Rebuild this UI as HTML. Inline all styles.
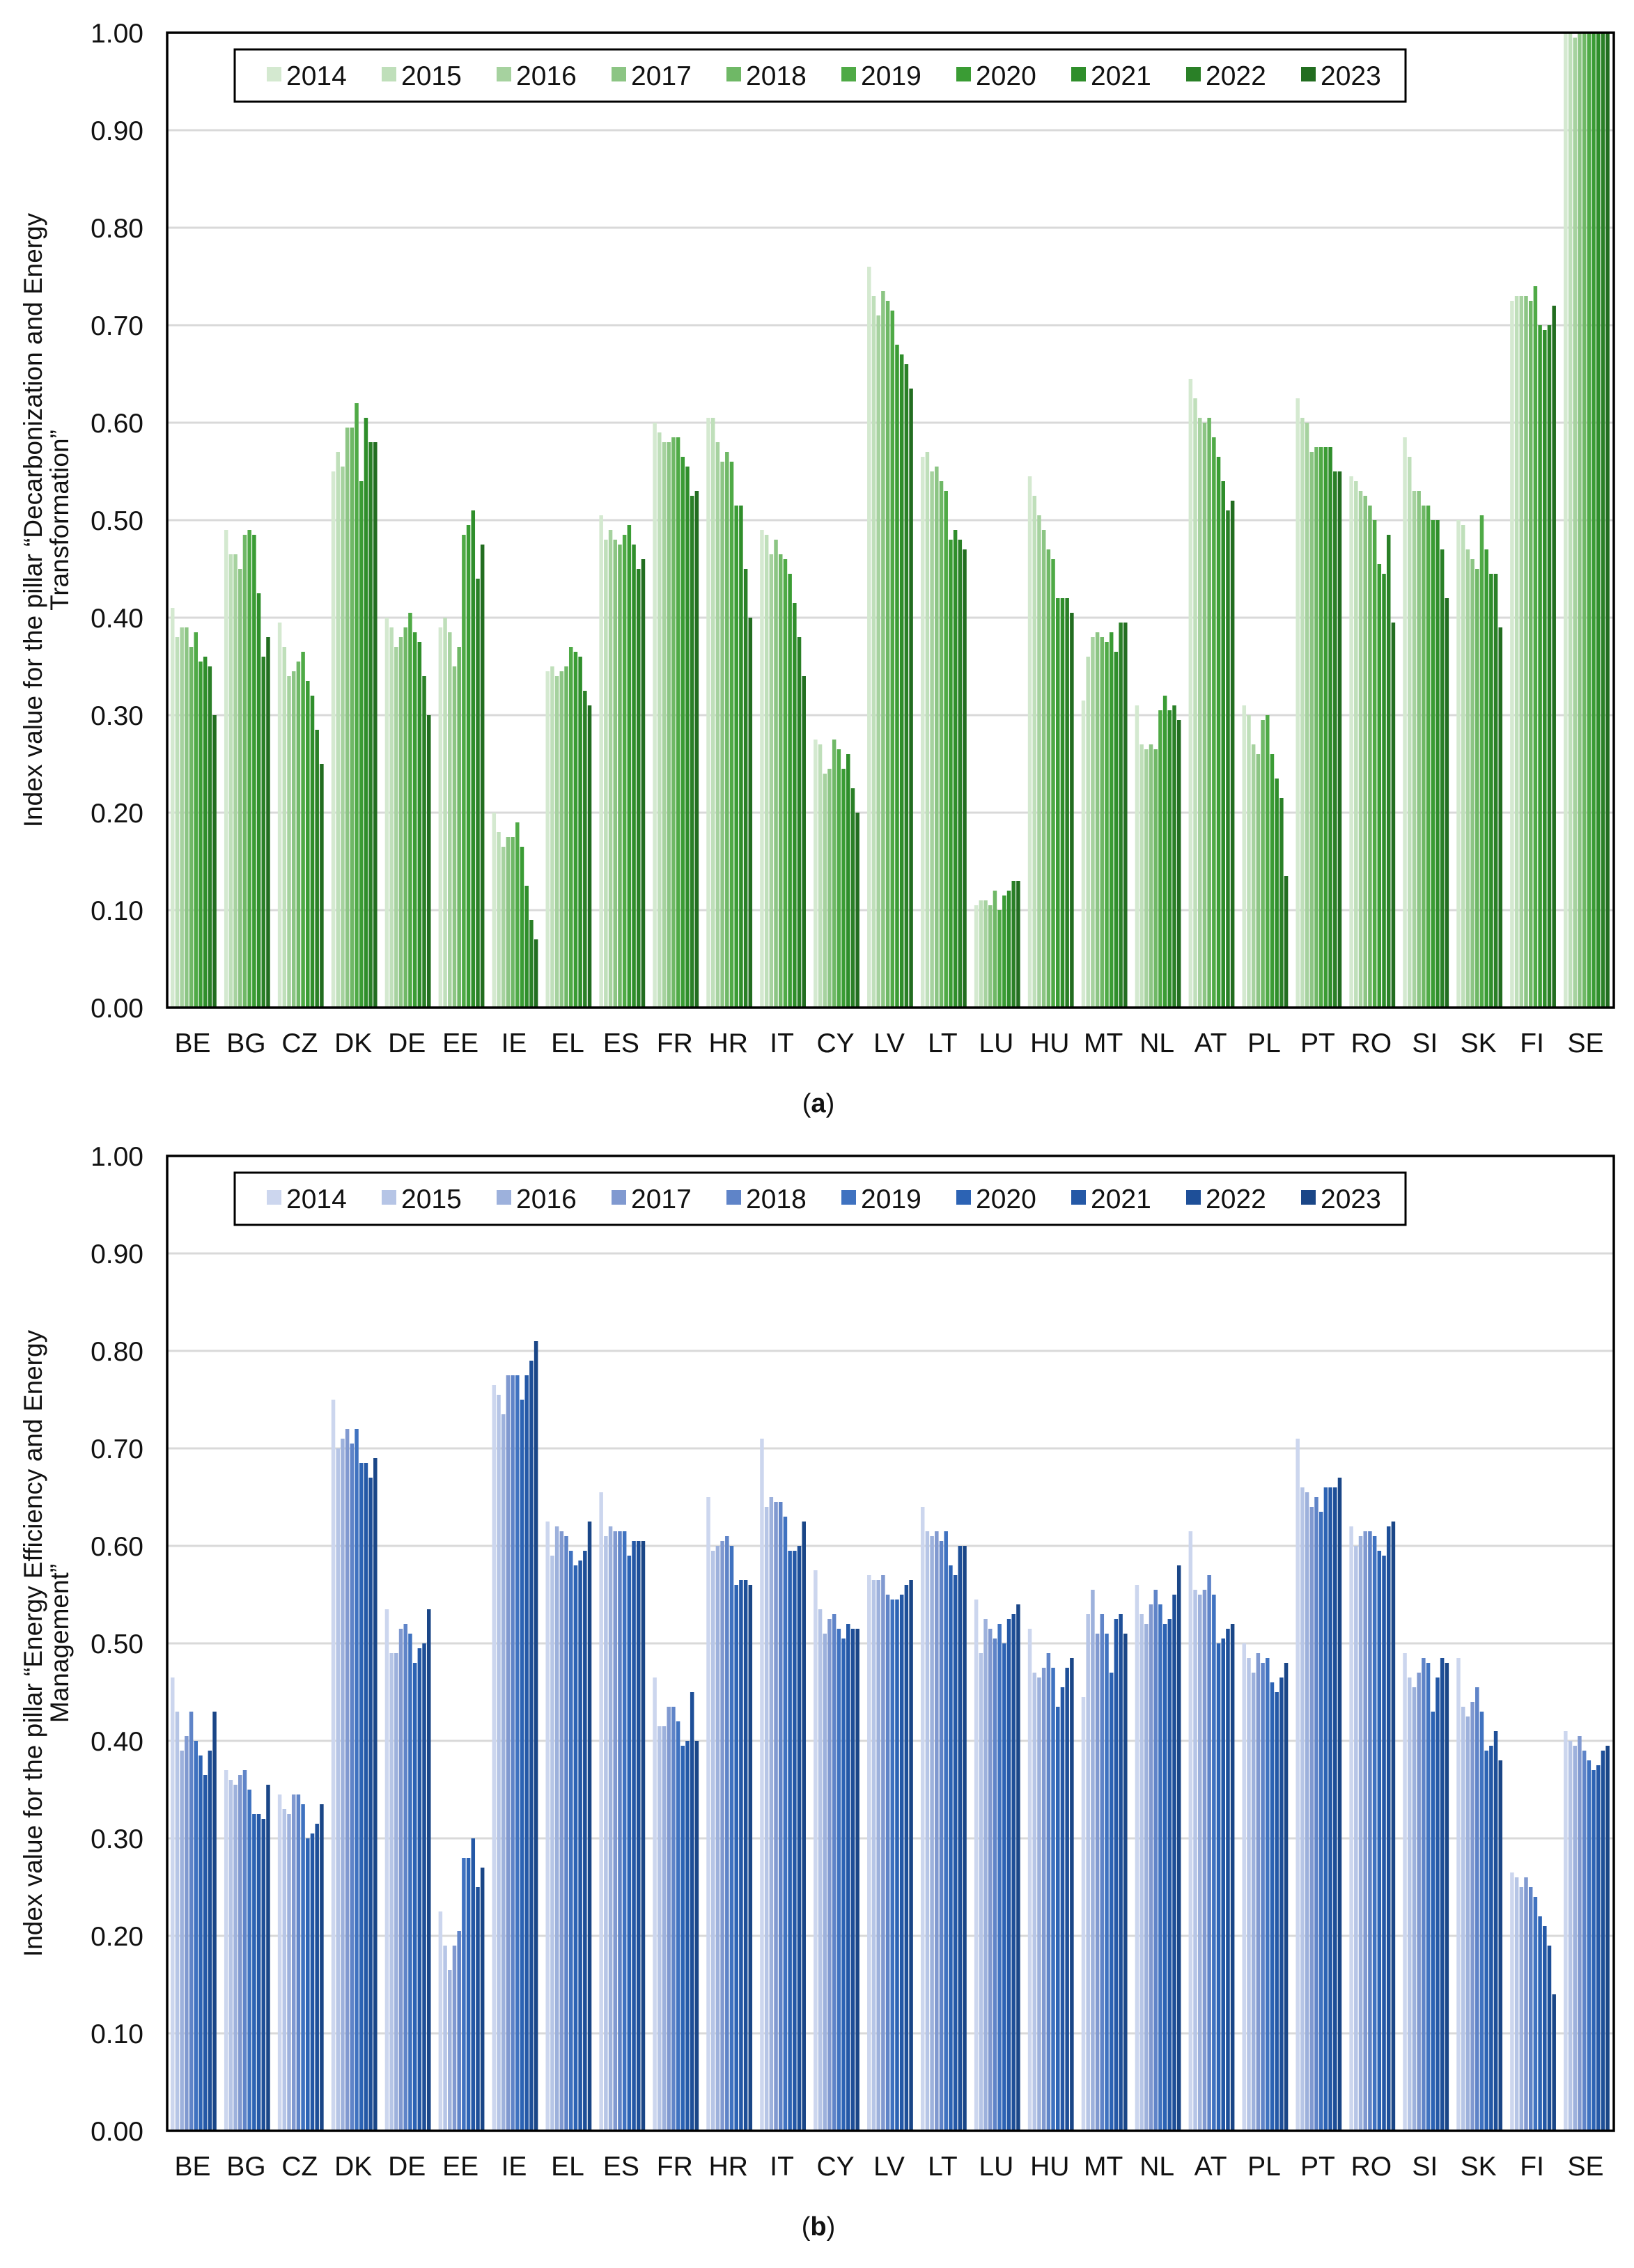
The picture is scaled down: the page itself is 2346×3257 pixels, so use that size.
<!DOCTYPE html>
<html><head><meta charset="utf-8"><style>
body{margin:0;background:#fff;}
svg{display:block;font-family:"Liberation Sans",Arial,sans-serif;}
</style></head><body>
<svg id="svg" width="2346" height="3257" viewBox="0 0 2346 3257" xmlns="http://www.w3.org/2000/svg"></svg>
<script>
const countries=["BE","BG","CZ","DK","DE","EE","IE","EL","ES","FR","HR","IT","CY","LV","LT","LU","HU","MT","NL","AT","PL","PT","RO","SI","SK","FI","SE"];
const years=["2014","2015","2016","2017","2018","2019","2020","2021","2022","2023"];
const yTicks=[0,0.1,0.2,0.3,0.4,0.5,0.6,0.7,0.8,0.9,1.0];
const valuesA=[
[0.41,0.38,0.39,0.39,0.37,0.385,0.355,0.36,0.35,0.30],
[0.49,0.465,0.465,0.45,0.485,0.49,0.485,0.425,0.36,0.38],
[0.395,0.37,0.34,0.345,0.355,0.365,0.335,0.32,0.285,0.25],
[0.55,0.57,0.555,0.595,0.595,0.62,0.54,0.605,0.58,0.58],
[0.40,0.39,0.37,0.38,0.39,0.405,0.385,0.375,0.34,0.30],
[0.39,0.40,0.385,0.35,0.37,0.485,0.495,0.51,0.44,0.475],
[0.20,0.18,0.165,0.175,0.175,0.19,0.165,0.125,0.09,0.07],
[0.345,0.35,0.34,0.345,0.35,0.37,0.365,0.36,0.325,0.31],
[0.505,0.48,0.49,0.48,0.475,0.485,0.495,0.475,0.45,0.46],
[0.60,0.59,0.58,0.58,0.585,0.585,0.565,0.555,0.525,0.53],
[0.605,0.605,0.58,0.56,0.57,0.56,0.515,0.515,0.45,0.40],
[0.49,0.485,0.465,0.48,0.465,0.46,0.445,0.415,0.38,0.34],
[0.275,0.27,0.24,0.245,0.275,0.265,0.245,0.26,0.225,0.20],
[0.76,0.73,0.71,0.735,0.725,0.715,0.68,0.67,0.66,0.635],
[0.565,0.57,0.55,0.555,0.54,0.53,0.48,0.49,0.48,0.47],
[0.105,0.11,0.11,0.105,0.12,0.10,0.115,0.12,0.13,0.13],
[0.545,0.525,0.505,0.49,0.47,0.46,0.42,0.42,0.42,0.405],
[0.315,0.36,0.38,0.385,0.38,0.375,0.385,0.365,0.395,0.395],
[0.31,0.27,0.265,0.27,0.265,0.305,0.32,0.305,0.31,0.295],
[0.645,0.625,0.605,0.60,0.605,0.585,0.565,0.54,0.51,0.52],
[0.31,0.30,0.27,0.26,0.295,0.30,0.26,0.235,0.215,0.135],
[0.625,0.605,0.60,0.57,0.575,0.575,0.575,0.575,0.55,0.55],
[0.545,0.54,0.53,0.525,0.515,0.50,0.455,0.445,0.485,0.395],
[0.585,0.565,0.53,0.53,0.515,0.515,0.50,0.50,0.47,0.42],
[0.50,0.495,0.47,0.46,0.45,0.505,0.47,0.445,0.445,0.39],
[0.725,0.73,0.73,0.73,0.725,0.74,0.70,0.695,0.70,0.72],
[1,1,0.995,1,1,1,1,1,1,1]];
const valuesB=[
[0.465,0.43,0.39,0.405,0.43,0.40,0.385,0.365,0.39,0.43],
[0.37,0.36,0.355,0.365,0.37,0.35,0.325,0.325,0.32,0.355],
[0.345,0.33,0.325,0.345,0.345,0.335,0.30,0.305,0.315,0.335],
[0.75,0.70,0.71,0.72,0.705,0.72,0.685,0.685,0.67,0.69],
[0.535,0.49,0.49,0.515,0.52,0.51,0.48,0.495,0.50,0.535],
[0.225,0.19,0.165,0.19,0.205,0.28,0.28,0.30,0.25,0.27],
[0.765,0.755,0.735,0.775,0.775,0.775,0.75,0.775,0.79,0.81],
[0.625,0.59,0.62,0.615,0.61,0.595,0.58,0.585,0.595,0.625],
[0.655,0.61,0.62,0.615,0.615,0.615,0.59,0.605,0.605,0.605],
[0.465,0.415,0.415,0.435,0.435,0.42,0.395,0.40,0.45,0.40],
[0.65,0.595,0.60,0.605,0.61,0.60,0.56,0.565,0.565,0.56],
[0.71,0.64,0.65,0.645,0.645,0.63,0.595,0.595,0.60,0.625],
[0.575,0.535,0.51,0.525,0.53,0.515,0.505,0.52,0.515,0.515],
[0.57,0.565,0.565,0.57,0.55,0.545,0.545,0.55,0.56,0.565],
[0.64,0.615,0.61,0.615,0.605,0.615,0.58,0.57,0.60,0.60],
[0.545,0.49,0.525,0.515,0.505,0.52,0.50,0.525,0.53,0.54],
[0.515,0.47,0.465,0.475,0.49,0.475,0.435,0.455,0.475,0.485],
[0.445,0.53,0.555,0.51,0.53,0.51,0.47,0.525,0.53,0.51],
[0.56,0.53,0.52,0.54,0.555,0.54,0.52,0.525,0.55,0.58],
[0.615,0.555,0.55,0.555,0.57,0.55,0.50,0.505,0.515,0.52],
[0.50,0.485,0.47,0.49,0.48,0.485,0.46,0.45,0.465,0.48],
[0.71,0.66,0.655,0.64,0.65,0.635,0.66,0.66,0.66,0.67],
[0.62,0.60,0.61,0.615,0.615,0.61,0.595,0.59,0.62,0.625],
[0.49,0.465,0.455,0.47,0.485,0.48,0.43,0.465,0.485,0.48],
[0.485,0.435,0.425,0.44,0.455,0.43,0.39,0.395,0.41,0.38],
[0.265,0.26,0.25,0.26,0.25,0.24,0.22,0.21,0.19,0.14],
[0.41,0.40,0.395,0.405,0.39,0.38,0.37,0.375,0.39,0.395]];
const colorsA=["#d4e9d0","#bfdfba","#a6d29f","#8cc584","#6fb866","#4faa46","#3a9c34","#2f8e2b","#2a8027","#226d20"];
const colorsB=["#ccd6ee","#b6c5e6","#9db1dc","#8099d0","#5f84c8","#3f72c0","#2c63b4","#2458a6","#1e4f98","#1a4687"];
const NS="http://www.w3.org/2000/svg";
const svg=document.getElementById('svg');
function mk(tag,attrs,parent,text){const e=document.createElementNS(NS,tag);for(const k in attrs)e.setAttribute(k,attrs[k]);if(text!==undefined)e.textContent=text;(parent||svg).appendChild(e);return e;}
function chart(top,vals,colors,titleLines,label,key){
  const L=240,R=2317,T=top,B=top+1400;
  const g=mk('g',{});
  
  
  const y=v=>B-v*(B-T);
  const gw=(R-L)/countries.length;
  const x=i=>L+i*gw;
  yTicks.forEach(t=>{
    if(t>0&&t<1){const ln=mk('line',{x1:L,x2:R,y1:y(t),y2:y(t),stroke:'#d9d9d9','stroke-width':3},g);
    }
    const tx=mk('text',{x:206,y:y(t)+14,'text-anchor':'end','font-size':39,fill:'#111'},g,t.toFixed(2));
    
  });
  const bw=67/years.length;
  vals.forEach((row,i)=>{
    row.forEach((v,j)=>{
      const r=mk('rect',{x:x(i)+5+j*bw,y:y(v),width:bw-1.2,height:B-y(v),fill:colors[j]},g);
      
      
    });
    const ct=mk('text',{x:x(i)+gw/2-2,y:B+64,'text-anchor':'middle','font-size':39,fill:'#111'},g,countries[i]);
    
  });
  const fr=mk('rect',{x:L,y:T,width:R-L,height:B-T,fill:'none',stroke:'#000','stroke-width':3.5},g);
  
  const lg=mk('g',{},g);
  
  mk('rect',{x:337,y:T+24,width:1681,height:75,fill:'#fff',stroke:'#000','stroke-width':3},lg);
  years.forEach((yr,j)=>{
    const e=mk('g',{},lg);
    
    
    mk('rect',{x:383+j*165,y:T+49,width:21,height:21,fill:colors[j]},e);
    mk('text',{x:411+j*165,y:T+75,'font-size':39,fill:'#111'},e,yr);
  });
  const cy=(T+B)/2;
  const tt=mk('text',{transform:`translate(60,${cy}) rotate(-90)`,'text-anchor':'middle','font-size':37,fill:'#111'},g);
  
  mk('tspan',{x:0,dy:0},tt,titleLines[0]);
  mk('tspan',{x:0,dy:38},tt,titleLines[1]);
  const cap=mk('text',{x:1175,y:B+150,'text-anchor':'middle','font-size':38,fill:'#111'},g);
  
  mk('tspan',{},cap,'(');mk('tspan',{'font-weight':'bold'},cap,label);mk('tspan',{},cap,')');
}
chart(47,valuesA,colorsA,["Index value for the pillar \u201cDecarbonization and Energy","Transformation\u201d"],'a','a');
chart(1660,valuesB,colorsB,["Index value for the pillar \u201cEnergy Efficiency and Energy","Management\u201d"],'b','b');
</script>
</body></html>
